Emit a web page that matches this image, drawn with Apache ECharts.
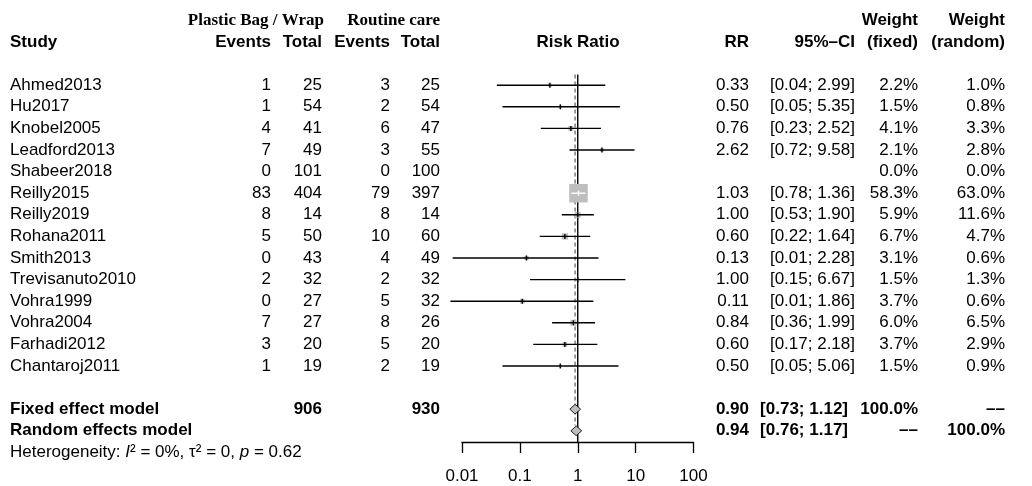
<!DOCTYPE html>
<html><head><meta charset="utf-8">
<script src="https://cdn.jsdelivr.net/npm/echarts@6/dist/echarts.min.js"></script>
<style>html,body{margin:0;padding:0;background:#fff}#c{width:1032px;height:486px}</style>
</head><body><div id="c"></div>
<script>
// ---------- data ----------
const studies = ['Ahmed2013','Hu2017','Knobel2005','Leadford2013','Shabeer2018','Reilly2015','Reilly2019','Rohana2011','Smith2013','Trevisanuto2010','Vohra1999','Vohra2004','Farhadi2012','Chantaroj2011'];
const eventsExp = [1,1,4,7,0,83,8,5,0,2,0,7,3,1];
const totalExp  = [25,54,41,49,101,404,14,50,43,32,27,27,20,19];
const eventsCtl = [3,2,6,3,0,79,8,10,4,2,5,8,5,2];
const totalCtl  = [25,54,47,55,100,397,14,60,49,32,32,26,20,19];
const rr     = [0.33,0.50,0.76,2.62,null,1.03,1.00,0.60,0.13,1.00,0.11,0.84,0.60,0.50];
const ciLow  = [0.04,0.05,0.23,0.72,null,0.78,0.53,0.22,0.0069,0.15,0.0063,0.36,0.17,0.05];
const ciHigh = [2.99,5.35,2.52,9.58,null,1.36,1.90,1.64,2.28,6.67,1.86,1.99,2.18,5.06];
const weightFixed  = [2.2,1.5,4.1,2.1,0.0,58.3,5.9,6.7,3.1,1.5,3.7,6.0,3.7,1.5];
const weightRandom = [1.0,0.8,3.3,2.8,0.0,63.0,11.6,4.7,0.6,1.3,0.6,6.5,2.9,0.9];

const pooledLabels = ['Fixed effect model','Random effects model'];
const pooledRR   = [0.90,0.94];
const pooledLow  = [0.73,0.76];
const pooledHigh = [1.12,1.17];
const pooledWeightFixed  = ['100.0%','\u2013\u2013'];
const pooledWeightRandom = ['\u2013\u2013','100.0%'];
const pooledTotalExp = ['906',''];
const pooledTotalCtl = ['930',''];
const hetI2 = '0%', hetTau2 = '0', hetP = '0.62';

const tickValues = [0.01,0.1,1,10,100];
const tickLabels = ['0.01','0.1','1','10','100'];

// ---------- layout ----------
const FIRST_STUDY_ROW = 3, POOLED_ROW = 18, HET_ROW = 20;
const SANS = '"Liberation Sans", Arial, Helvetica, sans-serif';
const SERIF = '"Liberation Serif", "Times New Roman", serif';
const FS = 17;
const COL = {study:10, evE:271, nE:322, evC:390, nC:440, plot:578, rr:749, ci:855, ciBold:848, wF:918, wR:1005};

function txt(x, y, s, align, bold, size, family) {
  return {type:'text', x:x, y:y, silent:true, style:{text:s, fill:'#000', fontSize:size||FS,
    fontFamily:family||SANS, fontWeight:bold?'bold':'normal', align:align, verticalAlign:'middle'}};
}
const f2 = v => v.toFixed(2);

const studyRows = studies.map((s,i)=>i).filter(i => rr[i] !== null)
  .map(i => [rr[i], FIRST_STUDY_ROW + i, ciLow[i], ciHigh[i], weightFixed[i]]);
const pooledRows = pooledRR.map((v,i) => [v, POOLED_ROW + i, pooledLow[i], pooledHigh[i]]);
const tableRows = [];
for (let r = 0; r <= HET_ROW; r++) tableRows.push([1, r]);

const maxW = Math.max(...weightFixed);
const MAX_SIDE = 18.5;

const chart = echarts.init(document.getElementById('c'), null, {renderer:'canvas'});
chart.setOption({
  animation:false,
  backgroundColor:'#fff',
  grid:{left:462, width:231.5, top:0, height:442},
  xAxis:{type:'log', logBase:10, min:0.01, max:100,
    axisLine:{show:true, onZero:false, lineStyle:{color:'#000', width:1.3}},
    axisTick:{show:true, inside:false, length:11, lineStyle:{color:'#000', width:1.3}},
    axisLabel:{margin:26, color:'#000', fontSize:FS, fontFamily:SANS,
      formatter:v => { let b=0, d=1e9; tickValues.forEach((t,k)=>{const dd=Math.abs(Math.log10(t)-Math.log10(v)); if(dd<d){d=dd;b=k;}}); return tickLabels[b]; }},
    splitLine:{show:false}},
  yAxis:{type:'value', inverse:true, min:-20.4/21.6, max:(442-20.4)/21.6, show:false},
  series:[
    { // reference lines
      type:'custom', silent:true, data:[[1, 0]],
      renderItem:(params, api) => {
        const top = api.coord([1, 2.5]);
        const bot = api.coord([1, (442-20.4)/21.6]);
        const fTop = api.coord([pooledRR[0], 2.5]);
        const fBot = api.coord([pooledRR[0], 18.75]);
        return {type:'group', children:[
          {type:'line', shape:{x1:top[0], y1:top[1], x2:bot[0], y2:bot[1]}, style:{stroke:'#000', lineWidth:1.4}},
          {type:'line', shape:{x1:fTop[0], y1:fTop[1], x2:fBot[0], y2:fBot[1]}, style:{stroke:'#808080', lineWidth:1.5, lineDash:[4,3]}}
        ]};
      }
    },
    { // study squares + CI
      type:'custom', silent:true, data:studyRows,
      renderItem:(params, api) => {
        const c = api.coord([api.value(0), api.value(1)]);
        const lo = api.coord([api.value(2), api.value(1)]);
        const hi = api.coord([api.value(3), api.value(1)]);
        const side = MAX_SIDE * Math.sqrt(api.value(4) / maxW);
        const inside = lo[0] >= c[0]-side/2 && hi[0] <= c[0]+side/2;
        const col = inside ? '#fff' : '#000';
        return {type:'group', children:[
          {type:'rect', shape:{x:c[0]-side/2, y:c[1]-side/2, width:side, height:side}, style:{fill:'#bebebe'}},
          {type:'line', shape:{x1:lo[0], y1:c[1], x2:hi[0], y2:c[1]}, style:{stroke:col, lineWidth:1.4}},
          {type:'line', shape:{x1:c[0], y1:c[1]-2.5, x2:c[0], y2:c[1]+2.5}, style:{stroke:col, lineWidth:1.4}}
        ]};
      }
    },
    { // pooled diamonds
      type:'custom', silent:true, data:pooledRows,
      renderItem:(params, api) => {
        const c = api.coord([api.value(0), api.value(1)]);
        const lo = api.coord([api.value(2), api.value(1)]);
        const hi = api.coord([api.value(3), api.value(1)]);
        const h = 4.8;
        return {type:'polygon', shape:{points:[[lo[0],c[1]],[c[0],c[1]-h],[hi[0],c[1]],[c[0],c[1]+h]]},
          style:{fill:'#bebebe', stroke:'#222', lineWidth:1}};
      }
    },
    { // table text
      type:'custom', silent:true, data:tableRows,
      renderItem:(params, api) => {
        const r = api.value(1);
        const y = api.coord([1, r])[1];
        const ch = [];
        if (r === 0) {
          ch.push(txt(COL.nE+2, y, 'Plastic Bag / Wrap', 'right', true, 17, SERIF));
          ch.push(txt(COL.nC, y, 'Routine care', 'right', true, 17, SERIF));
          ch.push(txt(COL.wF, y, 'Weight', 'right', true));
          ch.push(txt(COL.wR, y, 'Weight', 'right', true));
        } else if (r === 1) {
          ch.push(txt(COL.study, y, 'Study', 'left', true));
          ch.push(txt(COL.evE, y, 'Events', 'right', true));
          ch.push(txt(COL.nE, y, 'Total', 'right', true));
          ch.push(txt(COL.evC, y, 'Events', 'right', true));
          ch.push(txt(COL.nC, y, 'Total', 'right', true));
          ch.push(txt(COL.plot, y, 'Risk Ratio', 'center', true));
          ch.push(txt(COL.rr, y, 'RR', 'right', true));
          ch.push(txt(COL.ci, y, '95%\u2013CI', 'right', true));
          ch.push(txt(COL.wF, y, '(fixed)', 'right', true));
          ch.push(txt(COL.wR, y, '(random)', 'right', true));
        } else if (r >= FIRST_STUDY_ROW && r < FIRST_STUDY_ROW + studies.length) {
          const i = r - FIRST_STUDY_ROW;
          ch.push(txt(COL.study, y, studies[i], 'left'));
          ch.push(txt(COL.evE, y, String(eventsExp[i]), 'right'));
          ch.push(txt(COL.nE, y, String(totalExp[i]), 'right'));
          ch.push(txt(COL.evC, y, String(eventsCtl[i]), 'right'));
          ch.push(txt(COL.nC, y, String(totalCtl[i]), 'right'));
          if (rr[i] !== null) {
            ch.push(txt(COL.rr, y, f2(rr[i]), 'right'));
            ch.push(txt(COL.ci, y, '[' + f2(ciLow[i]) + '; ' + f2(ciHigh[i]) + ']', 'right'));
          }
          ch.push(txt(COL.wF, y, weightFixed[i].toFixed(1) + '%', 'right'));
          ch.push(txt(COL.wR, y, weightRandom[i].toFixed(1) + '%', 'right'));
        } else if (r === POOLED_ROW || r === POOLED_ROW + 1) {
          const k = r - POOLED_ROW;
          ch.push(txt(COL.study, y, pooledLabels[k], 'left', true));
          ch.push(txt(COL.nE, y, pooledTotalExp[k], 'right', true));
          ch.push(txt(COL.nC, y, pooledTotalCtl[k], 'right', true));
          ch.push(txt(COL.rr, y, f2(pooledRR[k]), 'right', true));
          ch.push(txt(COL.ciBold, y, '[' + f2(pooledLow[k]) + '; ' + f2(pooledHigh[k]) + ']', 'right', true));
          ch.push(txt(COL.wF, y, pooledWeightFixed[k], 'right', true));
          ch.push(txt(COL.wR, y, pooledWeightRandom[k], 'right', true));
        } else if (r === HET_ROW) {
          ch.push({type:'text', x:COL.study, y:y, silent:true, style:{
            text:'Heterogeneity: {it|I}\u00b2 = ' + hetI2 + ', \u03c4\u00b2 = ' + hetTau2 + ', {it|p} = ' + hetP,
            fill:'#000', fontSize:17, fontFamily:SANS, align:'left', verticalAlign:'middle',
            rich:{it:{fontStyle:'italic', fontSize:17, fontFamily:SANS, fill:'#000'}}}});
        }
        return {type:'group', children:ch};
      }
    }
  ]
});
</script></body></html>
